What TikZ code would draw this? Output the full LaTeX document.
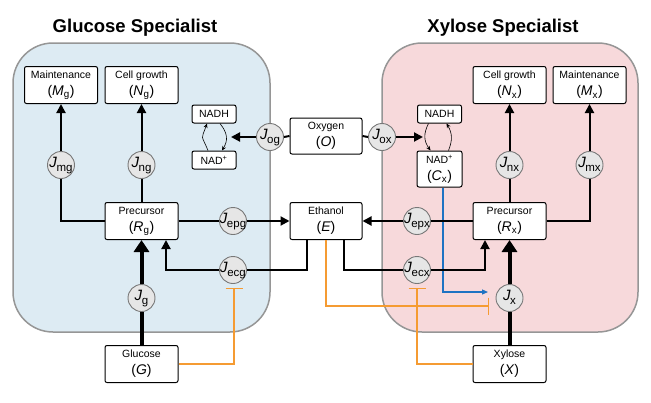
\documentclass[tikz,border=0pt]{standalone}
\usepackage{fontspec}
\setmainfont{Liberation Sans}
\usetikzlibrary{arrows.meta}
\definecolor{panelblue}{RGB}{221,235,243}
\definecolor{panelpink}{RGB}{247,217,219}
\definecolor{panelline}{RGB}{150,150,150}
\definecolor{circfill}{RGB}{230,230,230}
\definecolor{circline}{RGB}{120,120,120}
\definecolor{inhib}{RGB}{245,155,50}
\definecolor{nadblue}{RGB}{30,115,195}
\newcommand{\twol}[2]{{\fontsize{10.5}{12}\selectfont #1}\\{\fontsize{14}{17}\selectfont #2}}
\newcommand{\Jf}[1]{\makebox[0pt][c]{\fontsize{15}{15}\selectfont\textit{J}\kern-0.5pt\raisebox{-3.5pt}{\fontsize{11.5}{12}\selectfont #1}}}
\newcommand{\sml}[1]{{\fontsize{10.5}{12}\selectfont #1}}
\begin{document}
\begin{tikzpicture}[x=1pt,y=-1pt,
  box/.style={draw, line width=1pt, rounded corners=2pt, fill=white, inner sep=0pt, align=center, minimum width=73pt, minimum height=37pt, font=\fontsize{14}{17}\selectfont},
  smallbox/.style={box, minimum width=44pt, minimum height=18pt},
  flux/.style={circle, draw=circline, line width=0.9pt, fill=circfill, inner sep=0pt, minimum size=27pt, text height=10pt, text depth=5pt},
  conn/.style={line width=2pt},
  arr/.style={conn, -{Triangle[length=9pt,width=9pt]}},
  thickconn/.style={line width=4pt},
  thickarr/.style={thickconn, -{Triangle[length=12pt,width=15pt]}},
  inh/.style={draw=inhib, line width=1.4pt, -{Bar[width=17pt,line width=1.4pt]}},
  cyc/.style={line width=0.6pt, -{Stealth[length=4.5pt,width=4pt]}},
  panel/.style={draw=panelline, line width=1.5pt, rounded corners=40pt},
  title/.style={font=\fontsize{18.5}{20}\selectfont\bfseries}
]
\useasboundingbox (0,0) rectangle (651,402);
\fill[white] (0,0) rectangle (651,402);
% panels
\draw[panel, fill=panelblue] (13,43) rectangle (270,332);
\draw[panel, fill=panelpink] (382,43) rectangle (638,332);
\node[title] (tg) at (135,28) {Glucose Specialist};
\node[title] (tx) at (503,28) {Xylose Specialist};
% boxes
\node[box] (Mg) at (61,85) {\twol{Maintenance}{(\textit{M}\textsubscript{g})}};
\node[box] (Ng) at (141.5,85) {\twol{Cell growth}{(\textit{N}\textsubscript{g})}};
\node[smallbox] (NADHg) at (214,114) {\sml{NADH}};
\node[smallbox] (NADg) at (214,160) {\sml{NAD\textsuperscript{+}}};
\node[box, minimum width=72pt, minimum height=36pt] (O) at (326,136) {\twol{Oxygen}{(\textit{O})}};
\node[smallbox] (NADHx) at (439.5,114) {\sml{NADH}};
\node[box, minimum width=45pt, minimum height=36pt] (Cx) at (439.5,169) {\twol{NAD\textsuperscript{+}}{(\textit{C}\textsubscript{x})}};
\node[box] (Nx) at (509.5,85) {\twol{Cell growth}{(\textit{N}\textsubscript{x})}};
\node[box] (Mx) at (589.5,85) {\twol{Maintenance}{(\textit{M}\textsubscript{x})}};
\node[box] (Rg) at (141.5,221) {\twol{Precursor}{(\textit{R}\textsubscript{g})}};
\node[box, minimum width=72pt] (E) at (326,221) {\twol{Ethanol}{(\textit{E})}};
\node[box] (Rx) at (509.5,221) {\twol{Precursor}{(\textit{R}\textsubscript{x})}};
\node[box] (G) at (141.5,364) {\twol{Glucose}{(\textit{G})}};
\node[box] (X) at (509.5,364) {\twol{Xylose}{(\textit{X})}};
% flux circles
\node[flux] (Jmg) at (61,165) {\Jf{mg}};
\node[flux] (Jng) at (141.5,165) {\Jf{ng}};
\node[flux] (Jog) at (270,137) {\Jf{og}};
\node[flux] (Jox) at (382,137) {\Jf{ox}};
\node[flux] (Jnx) at (509.5,165) {\Jf{nx}};
\node[flux] (Jmx) at (589.5,165) {\Jf{mx}};
\node[flux] (Jepg) at (233,221) {\Jf{epg}};
\node[flux] (Jecg) at (233,270) {\Jf{ecg}};
\node[flux] (Jg) at (141.5,298) {\Jf{g}};
\node[flux] (Jepx) at (417,221) {\Jf{epx}};
\node[flux] (Jecx) at (417,270) {\Jf{ecx}};
\node[flux] (Jx) at (509.5,298) {\Jf{x}};
% free ends
\coordinate (ogend) at (231,137);
\coordinate (oxend) at (423,137);
\coordinate (gbar) at (234,288);
\coordinate (xbar) at (417,288);
\coordinate (ebar) at (489,306);
\coordinate (blueend) at (488,292);
% inhibition lines
\draw[inh] (G.east) -| (gbar);
\draw[inh] (X.west) -| (xbar);
\draw[inh] (E.south) |- (ebar);
% NAD+ signal
\draw[draw=nadblue, line width=1.2pt, -{Triangle[length=6pt,width=5pt]}] ([xshift=3.5pt]Cx.south) |- (blueend);
% growth and maintenance
\draw[conn] (Rg.west) -| (Jmg.south);
\draw[arr] (Jmg.north) -- (Mg.south);
\draw[conn] (Rg.north) -- (Jng.south);
\draw[arr] (Jng.north) -- (Ng.south);
\draw[conn] (Rx.east) -| (Jmx.south);
\draw[arr] (Jmx.north) -- (Mx.south);
\draw[conn] (Rx.north) -- (Jnx.south);
\draw[arr] (Jnx.north) -- (Nx.south);
% ethanol exchange
\draw[conn] (Rg.east) -- (Jepg.west);
\draw[arr] (Jepg.east) -- (E.west);
\draw[conn] (Rx.west) -- (Jepx.east);
\draw[arr] (Jepx.west) -- (E.east);
\draw[conn] ([xshift=-19pt]E.south) |- (Jecg.east);
\draw[arr] (Jecg.west) -| ([xshift=24.5pt]Rg.south);
\draw[conn] ([xshift=18pt]E.south) |- (Jecx.west);
\draw[arr] (Jecx.east) -| ([xshift=-24.5pt]Rx.south);
% substrate uptake
\draw[thickconn] (G.north) -- (Jg.south);
\draw[thickarr] (Jg.north) -- (Rg.south);
\draw[thickconn] (X.north) -- (Jx.south);
\draw[thickarr] (Jx.north) -- (Rx.south);
% oxygen
\draw[conn] (O.west) -- (Jog.east);
\draw[arr] (Jog.west) -- (ogend);
\draw[conn] (O.east) -- (Jox.west);
\draw[arr] (Jox.east) -- (oxend);
% NADH cycles
\draw[cyc] ([xshift=-6pt]NADg.north) .. controls ([xshift=-13pt,yshift=-10pt]NADHg.south) and ([xshift=-13pt,yshift=10pt]NADg.north) .. ([xshift=-7pt]NADHg.south);
\draw[cyc] ([xshift=6pt]NADHg.south) .. controls ([xshift=14pt,yshift=-10pt]NADHg.south) and ([xshift=14pt,yshift=10pt]NADg.north) .. ([xshift=8pt]NADg.north);
\draw[cyc] ([xshift=-11pt]NADHx.south) .. controls ([xshift=-16pt,yshift=-10pt]NADHx.south) and ([xshift=-16pt,yshift=10pt]Cx.north) .. ([xshift=-9pt]Cx.north);
\draw[cyc] ([xshift=9pt]Cx.north) .. controls ([xshift=13pt,yshift=10pt]Cx.north) and ([xshift=13pt,yshift=-10pt]NADHx.south) .. ([xshift=7pt]NADHx.south);
\end{tikzpicture}
\end{document}
